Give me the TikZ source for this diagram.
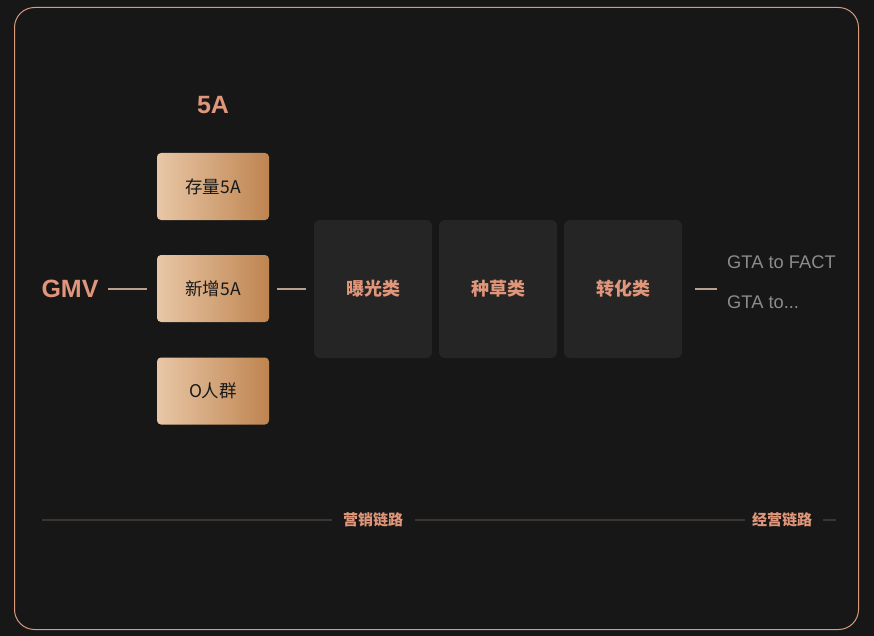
\documentclass[tikz,border=0pt]{standalone}
\usepackage{fontspec}
\setmainfont{Liberation Sans}
\newfontfamily\cjk{Noto Sans CJK SC}
\definecolor{bg}{HTML}{171717}
\definecolor{peach}{HTML}{E0967A}
\definecolor{frame}{HTML}{D99A7E}
\definecolor{gl}{HTML}{E8C7A6}
\definecolor{gr}{HTML}{BF8450}
\definecolor{darkbox}{HTML}{262526}
\definecolor{conn}{HTML}{B9A08E}
\definecolor{gtagray}{HTML}{8C8C8C}
\definecolor{rule}{HTML}{3A3531}
\tikzset{
  x=1pt,y=-1pt,
  gbox/.style={rounded corners=4pt,left color=gl,right color=gr,minimum width=112pt,minimum height=67pt,inner sep=0pt,text=black!90,font=\cjk\fontsize{17.5}{17.5}\selectfont},
  dbox/.style={rounded corners=6pt,fill=darkbox,minimum width=118pt,minimum height=138pt,inner sep=0pt,text=peach,font=\cjk\bfseries\fontsize{18}{18}\selectfont},
  conline/.style={draw=conn,line width=1.5pt},
  ruleline/.style={draw=rule,line width=1.5pt},
  bigtitle/.style={text=peach,font=\bfseries\fontsize{25}{25}\selectfont,inner sep=0pt},
  gta/.style={text=gtagray,font=\fontsize{18.3}{18.3}\selectfont,inner sep=0pt,anchor=west},
  rulelabel/.style={text=peach,font=\cjk\bfseries\fontsize{15}{15}\selectfont,inner sep=0pt}
}
\begin{document}
\begin{tikzpicture}
\fill[bg] (0,0) rectangle (874,636);
\useasboundingbox (0,0) rectangle (874,636);
\draw[frame,line width=1pt,rounded corners=20pt] (14.5,7.5) rectangle (858.5,629.5);

\node[bigtitle] (t5a) at (213,105) {5A};
\node[gbox] (b1) at (213,186.5) {存量5A};
\node[gbox] (b2) at (213,288.5) {新增5A};
\node[gbox] (b3) at (213,391) {O人群};
\node[bigtitle] (gmv) at (70,289) {GMV};

\node[dbox] (d1) at (373,289) {曝光类};
\node[dbox] (d2) at (498,289) {种草类};
\node[dbox] (d3) at (623,289) {转化类};

\node[gta] (g1) at (727,262) {GTA to FACT};
\node[gta] (g2) at (727,302) {GTA to...};

\coordinate (c1) at (108,289);
\coordinate (c2) at (147,289);
\coordinate (c3) at (277,289);
\coordinate (c4) at (306,289);
\coordinate (c5) at (695,289);
\coordinate (c6) at (717,289);
\draw[conline] (c1) -- (c2);
\draw[conline] (c3) -- (c4);
\draw[conline] (c5) -- (c6);

\node[rulelabel] (l1) at (373,520) {营销链路};
\node[rulelabel] (l2) at (782,520) {经营链路};
\coordinate (r0) at (42,520);
\coordinate (r1) at (332,520);
\coordinate (r2) at (415,520);
\coordinate (r3) at (745,520);
\coordinate (r4) at (823,520);
\coordinate (r5) at (836,520);
\draw[ruleline] (r0) -- (r1);
\draw[ruleline] (r2) -- (r3);
\draw[ruleline] (r4) -- (r5);
\end{tikzpicture}
\end{document}
